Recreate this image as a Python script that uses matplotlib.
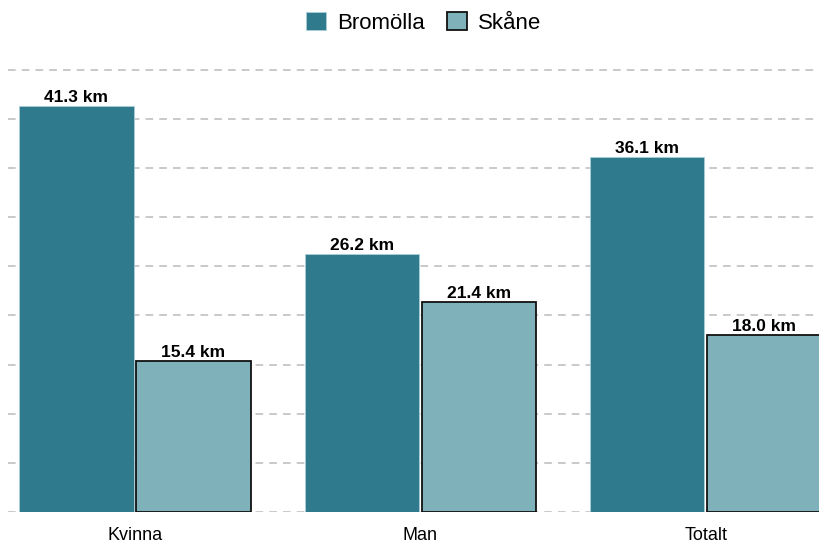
import numpy as np
import matplotlib.pyplot as plt

plt.rcParams['font.family'] = ['Liberation Sans', 'DejaVu Sans']

categories = ['Kvinna', 'Man', 'Totalt']
bromolla = [41.3, 26.2, 36.1]
skane = [15.4, 21.4, 18.0]
series_names = ['Bromölla', 'Skåne']

col_bromolla = '#2f7a8c'
col_skane = '#7fb1bb'

fig = plt.figure(figsize=(8.2, 5.44), dpi=100)
ax = fig.add_axes([8 / 820, 32 / 544, 812 / 820, 460 / 544])

x = np.arange(len(categories))
w = 0.4
off = 0.205
b1 = ax.bar(x - off, bromolla, w, color=col_bromolla, edgecolor='#a9d0d8',
            linewidth=0.6, label=series_names[0], zorder=3)
b2 = ax.bar(x + off, skane, w, color=col_skane, edgecolor='#111111',
            linewidth=1.3, label=series_names[1], zorder=3)

for bars, vals in ((b1, bromolla), (b2, skane)):
    for bar, v in zip(bars, vals):
        ax.text(bar.get_x() + bar.get_width() / 2, v + 0.1, '{:.1f} km'.format(v),
                ha='center', va='bottom', fontsize=12.5, fontweight='bold', zorder=4)

ax.set_xlim(-0.445, 2.40)
ax.set_ylim(0, 460 / 9.83)
ax.set_yticks(np.arange(0, 50, 5))
ax.yaxis.grid(True, linestyle=(0, (5, 4)), color='#bbbbbb', linewidth=1.1, zorder=0)
ax.tick_params(axis='y', left=False, labelleft=False)
ax.tick_params(axis='x', bottom=False, labelsize=13, pad=7)
ax.set_xticks(x)
ax.set_xticklabels(categories)
for s in ax.spines.values():
    s.set_visible(False)

fig.legend(loc='upper center', bbox_to_anchor=(0.517, 1.015), ncol=2, frameon=False,
           fontsize=16, handlelength=0.9, handleheight=0.9, columnspacing=1.0,
           handletextpad=0.5)

fig.savefig('out.png', dpi=100)
